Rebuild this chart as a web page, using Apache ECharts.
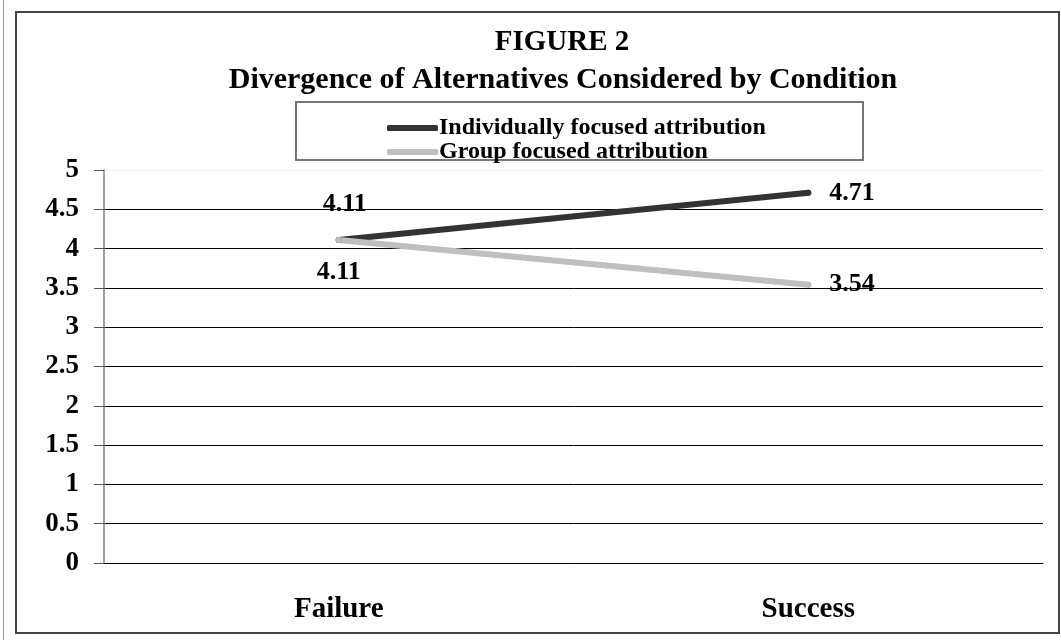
<!DOCTYPE html>
<html>
<head>
<meta charset="utf-8">
<script src="https://cdn.jsdelivr.net/npm/echarts@6/dist/echarts.min.js"></script>
<style>
  html, body { margin: 0; padding: 0; background: #fff; }
  #chart { width: 1061px; height: 640px; }
</style>
</head>
<body>
<div id="chart"></div>
<script>
var conditions = ['Failure', 'Success'];
var individualValues = [4.11, 4.71];
var groupValues = [4.11, 3.54];
var seriesNames = ['Individually focused attribution', 'Group focused attribution'];

var serif = 'Liberation Serif';
var dom = document.getElementById('chart');
var myChart = echarts.init(dom);

var labelFont = { fontFamily: serif, fontWeight: 'bold', fontSize: 26, color: '#000' };

// per-point label placement
function withLabels(values, placements) {
    return values.map(function (v, i) {
        return {
            value: v,
            label: Object.assign({ show: true, formatter: function (p) { return Number(p.value).toFixed(2); } },
                labelFont, placements[i])
        };
    });
}

var option = {
    backgroundColor: '#fff',
    animation: false,
    title: [
        {
            text: 'FIGURE 2',
            left: 557, top: 23, textAlign: 'center',
            textStyle: { fontFamily: serif, fontWeight: 'bold', fontSize: 29, color: '#000' }
        },
        {
            text: 'Divergence of Alternatives Considered by Condition',
            left: 558, top: 60, textAlign: 'center',
            textStyle: { fontFamily: serif, fontWeight: 'bold', fontSize: 30, color: '#000' }
        }
    ],
    legend: {
        orient: 'vertical',
        left: 387, top: 116,
        itemGap: 0,
        itemWidth: 51, itemHeight: 6,
        icon: 'roundRect',
        padding: 0,
        data: seriesNames,
        textStyle: { fontFamily: serif, fontWeight: 'bold', fontSize: 24, color: '#000', lineHeight: 20, padding: [0, 0, 0, -4] }
    },
    graphic: [
        { type: 'rect', shape: { x: 16, y: 12, width: 1043, height: 621 }, style: { fill: 'none', stroke: '#444', lineWidth: 2 }, z: -1 },
        { type: 'line', shape: { x1: 3.5, y1: 0, x2: 3.5, y2: 640 }, style: { stroke: '#999', lineWidth: 1 } },
        { type: 'rect', shape: { x: 296, y: 102, width: 567, height: 58 }, style: { fill: 'none', stroke: '#777', lineWidth: 2 }, z: -1 }
    ],
    grid: { left: 104, right: 18, top: 170, bottom: 77 },
    xAxis: {
        type: 'category',
        data: conditions,
        axisLine: { lineStyle: { color: '#000', width: 1 } },
        axisTick: { length: 10, lineStyle: { color: '#000' } },
        axisLabel: { margin: 32, fontFamily: serif, fontWeight: 'bold', fontSize: 29, color: '#000' }
    },
    yAxis: {
        type: 'value',
        min: 0, max: 5, interval: 0.5,
        axisLine: { show: true, lineStyle: { color: '#808080', width: 1.5 } },
        axisTick: { show: true, length: 10, lineStyle: { color: '#555' } },
        axisLabel: { margin: 25, fontFamily: serif, fontWeight: 'bold', fontSize: 27, color: '#000' },
        splitLine: {
            lineStyle: {
                color: ['#000', '#000', '#000', '#000', '#000', '#000', '#000', '#000', '#000', '#000', '#eeeeee'],
                width: 1
            }
        }
    },
    series: [
        {
            name: seriesNames[0],
            type: 'line',
            symbol: 'circle',
            symbolSize: 6,
            color: '#333333',
            itemStyle: { color: '#333333', borderWidth: 0 },
            lineStyle: { width: 6, cap: 'round' },
            data: withLabels(individualValues, [
                { position: 'top', distance: 20, offset: [6, 0] },
                { position: 'right', distance: 18 }
            ])
        },
        {
            name: seriesNames[1],
            type: 'line',
            symbol: 'circle',
            symbolSize: 6,
            color: '#bfbfbf',
            itemStyle: { color: '#bfbfbf', borderWidth: 0 },
            lineStyle: { width: 6, cap: 'round' },
            data: withLabels(groupValues, [
                { position: 'bottom', distance: 16 },
                { position: 'right', distance: 18 }
            ])
        }
    ]
};

myChart.setOption(option);
</script>
</body>
</html>
